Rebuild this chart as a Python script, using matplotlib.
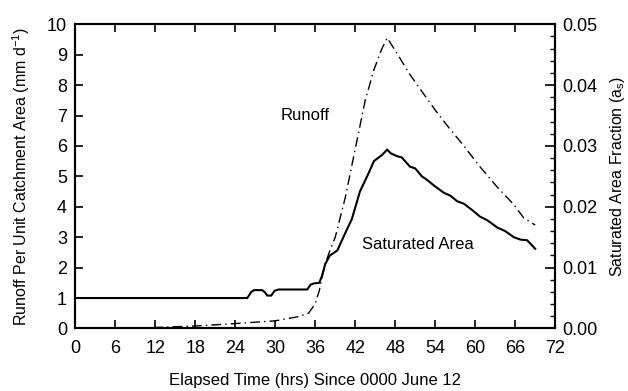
import matplotlib
matplotlib.use('Agg')
import matplotlib.pyplot as plt
from matplotlib.ticker import MultipleLocator, FormatStrFormatter

plt.rcParams['font.family'] = ['Liberation Sans', 'DejaVu Sans']

# runoff (mm/d), dash-dot line, left axis
runoff_t = [0, 8, 12, 18, 24, 30, 33.3, 35.0, 36.0, 36.6, 37.0, 37.5, 38.2, 39.0, 40.5,
            42.0, 43.5, 44.8, 46.0, 46.8, 48.3, 50.2, 52.3, 54.0, 55.8, 58.3, 60.7,
            63.3, 65.8, 67.3, 69.0]
runoff = [0.0, 0.0, 0.03, 0.08, 0.16, 0.25, 0.38, 0.5, 0.82, 1.24, 1.67, 2.13, 2.56, 3.0, 4.3,
          5.9, 7.5, 8.5, 9.2, 9.55, 9.03, 8.35, 7.7, 7.18, 6.67, 6.0, 5.32,
          4.65, 4.07, 3.63, 3.4]

# saturated area fraction, solid line, right axis
sat_t = [0, 25.8, 26.4, 26.8, 28.0, 28.4, 28.8, 29.4, 29.9, 30.5, 34.8, 35.3, 35.8, 36.6,
         37.0, 37.5, 38.2, 39.3, 40.3, 41.5, 42.7, 44.0, 44.8, 46.0, 46.8, 47.3,
         48.3, 49.0, 50.2, 51.0, 52.0, 52.8, 53.8, 55.3, 56.3, 57.3, 58.3, 59.5,
         60.7, 61.8, 63.3, 64.5, 65.8, 66.8, 67.8, 69.0]
sat = [0.0050, 0.0050, 0.0060, 0.0063, 0.0063, 0.0060, 0.0054, 0.0054, 0.0062, 0.0064, 0.0064, 0.0072, 0.0074, 0.0075,
       0.0086, 0.0106, 0.0120, 0.0128, 0.0152, 0.0180, 0.0225, 0.0255, 0.0275, 0.0285, 0.0294, 0.0288,
       0.0283, 0.0281, 0.0266, 0.0263, 0.0250, 0.0244, 0.0235, 0.0223, 0.0218, 0.0209, 0.0205, 0.0195,
       0.0184, 0.0178, 0.0166, 0.0160, 0.0150, 0.0146, 0.0145, 0.0131]

fig = plt.figure(figsize=(6.28, 3.91), dpi=100)
ax = fig.add_axes([0.120, 0.160, 0.764, 0.778])
ax2 = ax.twinx()

ax.plot(runoff_t, runoff, color='black', lw=1.0, linestyle=(0, (7, 3, 1, 3)))
ax2.plot(sat_t, sat, color='black', lw=1.5)

ax.set_xlim(0, 72)
ax.set_ylim(0, 10)
ax2.set_ylim(0, 0.05)

ax.xaxis.set_major_locator(MultipleLocator(6))
ax.yaxis.set_major_locator(MultipleLocator(1))
ax2.yaxis.set_major_locator(MultipleLocator(0.01))
ax2.yaxis.set_minor_locator(MultipleLocator(0.002))
ax2.yaxis.set_major_formatter(FormatStrFormatter('%.2f'))

ax.tick_params(axis='x', direction='in', top=True, length=6, width=1.2, pad=8, labelsize=13)
ax.tick_params(axis='y', direction='in', left=True, right=False, length=6, width=1.2, pad=6, labelsize=13)
ax2.tick_params(axis='y', which='major', direction='in', length=7, width=1.2, pad=5, labelsize=13)
ax2.tick_params(axis='y', which='minor', direction='in', length=3.5, width=1.0)

for a in (ax, ax2):
    for s in a.spines.values():
        s.set_linewidth(1.5)

ax.set_xlabel('Elapsed Time (hrs) Since 0000 June 12', fontsize=12, labelpad=12)
ax.set_ylabel('Runoff Per Unit Catchment Area (mm d$^{\\mathregular{-1}}$)', fontsize=11.5, labelpad=11)
ax2.set_ylabel('Saturated Area Fraction (a$_{\\mathregular{s}}$)', fontsize=11.5, labelpad=8)

ax.text(30.8, 7.0, 'Runoff', fontsize=12, va='center', ha='left')
ax.text(43.0, 2.75, 'Saturated Area', fontsize=12, va='center', ha='left')

fig.savefig('out.png', dpi=100)
